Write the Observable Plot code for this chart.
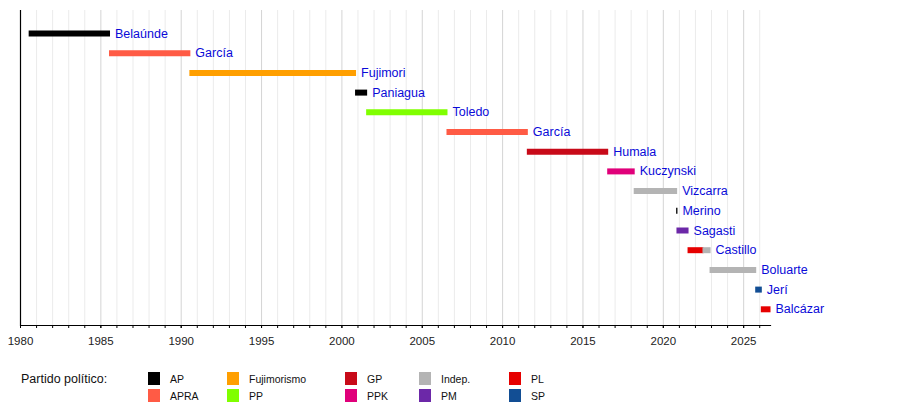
<!DOCTYPE html>
<html>
<head>
<meta charset="utf-8">
<script src="https://cdn.jsdelivr.net/npm/d3@7"></script>
<script src="https://cdn.jsdelivr.net/npm/@observablehq/plot@0.6"></script>
<style>
  html, body { margin: 0; padding: 0; background: #fff; }
  body { width: 900px; height: 405px; overflow: hidden; font-family: "Liberation Sans", Arial, sans-serif; }
  #chart svg { display: block; }
  #legend { position: relative; width: 900px; height: 45px; color: #111; }
  #legend .title { position: absolute; left: 21px; top: 12px; font-size: 12.5px; line-height: 14px; }
  #legend .sw { position: absolute; width: 12px; height: 13px; }
  #legend .lab { position: absolute; font-size: 10.5px; line-height: 12px; }
</style>
</head>
<body>
<div id="chart"></div>
<div id="legend"></div>
<script>
// ---- data ----
const presidents = ["Belaúnde","García","Fujimori","Paniagua","Toledo","García","Humala","Kuczynski","Vizcarra","Merino","Sagasti","Castillo","Boluarte","Jerí","Balcázar"];
// term segments (a president can have several segments when changing party)
const segRow   = [0, 1, 2, 3, 4, 5, 6, 7, 8, 9, 10, 11, 11, 12, 13, 14];
const segStart = [1980.57, 1985.57, 1990.57, 2000.88, 2001.57, 2006.57, 2011.57, 2016.57, 2018.22, 2020.86, 2020.88, 2021.57, 2022.50, 2022.94, 2025.78, 2026.13];
const segEnd   = [1985.57, 1990.57, 2000.88, 2001.57, 2006.57, 2011.57, 2016.57, 2018.22, 2020.86, 2020.88, 2021.57, 2022.50, 2022.94, 2025.78, 2026.13, 2026.67];
const segParty = ["AP","APRA","Fujimorismo","AP","PP","APRA","GP","PPK","Indep.","AP","PM","PL","Indep.","Indep.","SP","PL"];
const partyNames  = ["AP","APRA","Fujimorismo","PP","GP","PPK","Indep.","PM","PL","SP"];
const partyColors = ["#000000","#ff5b45","#ff9f00","#80ff00","#c80a19","#e0007a","#b4b4b4","#6c28a8","#e60000","#124e94"];
const xStart = 1980, xEnd = 2026.67;
const majorYears = d3.range(1980, 2030, 5);
const allYears = d3.range(1980, 2027);
const minorYears = allYears.filter(y => y % 5 !== 0);

// ---- build tables ----
const segments = segRow.map((r, i) => ({row: r, start: segStart[i], end: segEnd[i], party: segParty[i]}));
const rows = presidents.map((name, i) => ({
  row: i, name, end: d3.max(segments.filter(s => s.row === i), s => s.end)
}));

const font = "'Liberation Sans', Arial, sans-serif";
const chart = Plot.plot({
  width: 900,
  height: 360,
  marginLeft: 20,
  marginRight: 130,
  marginTop: 10,
  marginBottom: 35,
  style: {fontFamily: font, background: "#fff"},
  x: {domain: [xStart, xEnd], axis: null},
  y: {type: "linear", domain: [0, presidents.length - 1], range: [33, 308.8], axis: null},
  color: {domain: partyNames, range: partyColors},
  marks: [
    Plot.ruleX(minorYears.filter(y => y > xStart), {stroke: "#ebebeb", strokeWidth: 1}),
    Plot.ruleX(majorYears.filter(y => y > xStart && y <= xEnd), {stroke: "#d4d4d4", strokeWidth: 1}),
    Plot.ruleX([xStart], {stroke: "#000", strokeWidth: 1.2}),
    Plot.frame({anchor: "bottom", stroke: "#000", strokeWidth: 1.2}),
    Plot.axisX(allYears, {tickSize: 3, tickFormat: () => "", stroke: "#000"}),
    Plot.axisX(majorYears, {tickSize: 3, tickPadding: 8, tickFormat: "d", fontSize: 11.5, fill: "#222", stroke: "#000"}),
    Plot.ruleY(segments, {y: "row", x1: "start", x2: "end", stroke: "party", strokeWidth: 6, strokeLinecap: "butt", insetLeft: -0.5, insetRight: -0.5}),
    Plot.text(rows, {x: "end", y: "row", text: "name", dx: 5, textAnchor: "start", fill: "#0a0ad8", fontSize: 12.5, fontFamily: font})
  ]
});
document.getElementById("chart").appendChild(chart);

// ---- legend ----
const legend = document.getElementById("legend");
const title = document.createElement("div");
title.className = "title";
title.textContent = "Partido político:";
legend.appendChild(title);
const colX = [148, 227, 345, 419, 509];
const rowTop = [12, 29];
partyNames.forEach((p, i) => {
  const c = Math.floor(i / 2), r = i % 2;
  const sw = document.createElement("div");
  sw.className = "sw";
  sw.style.left = colX[c] + "px";
  sw.style.top = rowTop[r] + "px";
  sw.style.background = partyColors[i];
  legend.appendChild(sw);
  const lab = document.createElement("div");
  lab.className = "lab";
  lab.style.left = (colX[c] + 22) + "px";
  lab.style.top = (rowTop[r] + 1) + "px";
  lab.textContent = p;
  legend.appendChild(lab);
});
</script>
</body>
</html>
